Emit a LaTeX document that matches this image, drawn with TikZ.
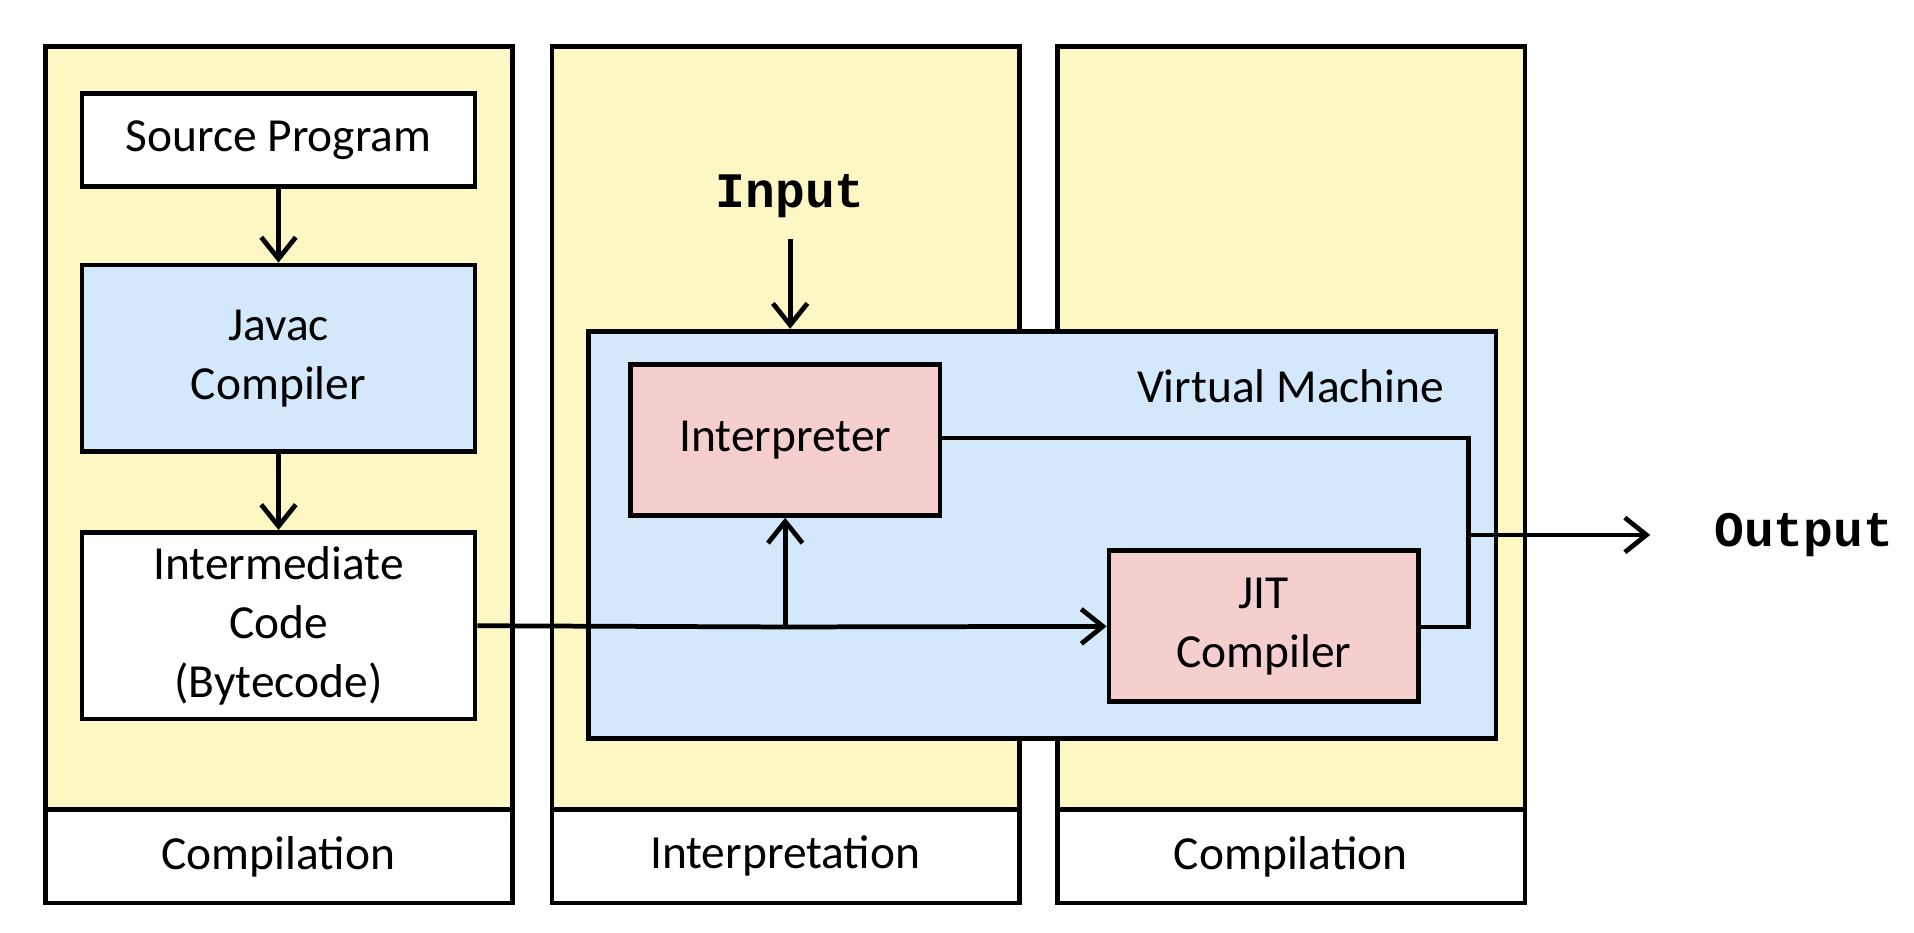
\documentclass[tikz,border=0pt]{standalone}
\usepackage{fontspec}
\setmainfont{Carlito}
\newfontfamily\monob{Liberation Mono}
\usetikzlibrary{arrows.meta}
\definecolor{ylw}{HTML}{FDF7C3}
\definecolor{vmblue}{HTML}{D3E8FB}
\definecolor{pnk}{HTML}{F5CFCE}
\begin{document}
\begin{tikzpicture}[x=0.01cm,y=-0.01cm,line width=1.1pt,
  txt/.style={font=\fontsize{11}{13.6}\selectfont,align=center},
  box/.style={draw,txt},
  arr/.style={-{Straight Barb[length=5pt,width=8pt]}}]
\useasboundingbox (0,0) rectangle (1560,760);
% columns
\foreach \x/\n/\l in {37/c1/Compilation,450/c2/Interpretation,862/c3/Compilation}{
  \draw[fill=ylw] (\x,38) rectangle ++(381,622);
  \draw[fill=white] (\x,660) rectangle ++(381,76);
  \node[txt] (\n) at (\x+190,698) {\l};
}
\node[box,fill=white,minimum width=3.2cm,minimum height=0.76cm] (src) at (227,114) {Source Program};
\node[box,fill=vmblue,minimum width=3.2cm,minimum height=1.52cm] (javac) at (227,292) {Javac\\Compiler};
\node[box,fill=white,minimum width=3.2cm,minimum height=1.51cm] (ic) at (227,510) {Intermediate\\Code\\(Bytecode)};
\draw[arr] (src) -- (javac);
\draw[arr] (javac) -- (ic);
\node[draw,fill=vmblue,minimum width=7.39cm,minimum height=3.32cm] (vm) at (849.5,436) {};
\node[txt] (vmt) at (1052,315) {Virtual Machine};
\node[font=\monob\bfseries\fontsize{11.5}{13}\selectfont] (inp) at (644,160) {Input};
\draw[arr] (644,195) -- (vm.north -| 644,0);
\node[box,fill=pnk,minimum width=2.52cm,minimum height=1.23cm] (intp) at (640,358.5) {Interpreter};
\node[box,fill=pnk,minimum width=2.52cm,minimum height=1.23cm] (jit) at (1030,510.5) {JIT\\Compiler};
\coordinate (br) at (640,511);
\draw[arr] (ic.east |- 0,510) -- (br) -- (jit.west);
\draw[arr] (br) -- (intp.south);
\coordinate (rt) at (1197,357);
\coordinate (rb) at (1197,511);
\coordinate (ro) at (1197,436);
\draw (intp.east |- rt) -- (rt) -- (rb) -- (jit.east |- rb);
\node[font=\monob\bfseries\fontsize{11.5}{13}\selectfont] (out) at (1470,436) {Output};
\draw[arr] (ro) -- (1345,436);
\end{tikzpicture}
\end{document}
